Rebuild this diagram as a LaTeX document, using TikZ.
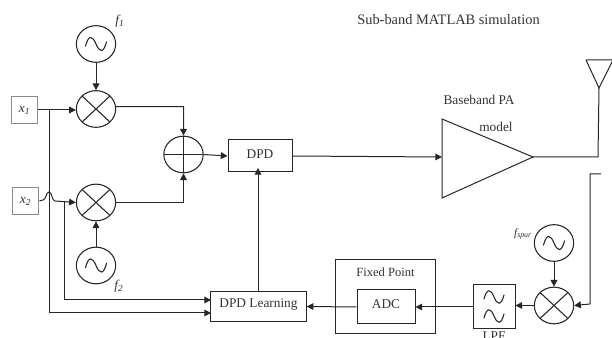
\documentclass[tikz,border=0pt]{standalone}
\usepackage{fontspec}
\setmainfont{Liberation Serif}
\usetikzlibrary{arrows.meta,shapes.geometric}
\begin{document}
\begin{tikzpicture}[x=0.75pt,y=-0.75pt,
  every node/.style={text=black!80,font=\fontsize{10}{12}\selectfont,inner sep=0pt},
  wire/.style={draw=black!85,line width=0.75pt},
  arr/.style={wire,-{Triangle[length=5pt,width=5pt]}},
  blockbox/.style={draw=black!85,line width=0.75pt,rectangle},
  inbox/.style={draw=black!45,line width=0.75pt,rectangle,minimum width=20pt,minimum height=20pt},
  disc/.style={draw=black!85,line width=0.8pt,ellipse,minimum width=29.5pt,minimum height=27.5pt},
  mixer/.style={disc,path picture={
    \draw[black!85,line width=0.8pt] ([shift={(4.3pt,-4pt)}]path picture bounding box.north west) -- ([shift={(-4.3pt,4pt)}]path picture bounding box.south east);
    \draw[black!85,line width=0.8pt] ([shift={(4.3pt,4pt)}]path picture bounding box.south west) -- ([shift={(-4.3pt,-4pt)}]path picture bounding box.north east);}},
  adder/.style={disc,path picture={
    \draw[black!85,line width=0.6pt] (path picture bounding box.north) -- (path picture bounding box.south);
    \draw[black!85,line width=0.6pt] (path picture bounding box.west) -- (path picture bounding box.east);}},
  pics/sinewave/.style={code={
    \draw[black!85,line width=0.8pt,line cap=round] (-7.9pt,-1.6pt) .. controls (-5.6pt,7.2pt) and (-2.6pt,6.4pt) .. (0,0) .. controls (2.6pt,-6.4pt) and (5.6pt,-7.2pt) .. (7.9pt,1.6pt);}}
]
\useasboundingbox (0,0) rectangle (612,338);
\clip (0,0) rectangle (612,338);
\node[disc] (f1) at (96,44) {};
\pic at (f1.center) {sinewave};
\node[mixer] (m1) at (96,109) {};
\node[inbox] (x1) at (24.5,110) {\itshape x\textsubscript{1}};
\node[adder] (add) at (183.5,154.5) {};
\node[blockbox,minimum width=48pt,minimum height=24pt] (dpd) at (260,156) {};
\node at (260,154) {DPD};
\node[inbox] (x2) at (25.5,201) {\itshape x\textsubscript{2}};
\node[mixer] (m2) at (96,202.5) {};
\node[disc] (f2) at (96,265.5) {};
\pic at (f2.center) {sinewave};
\node[blockbox,minimum width=71.5pt,minimum height=23pt,align=center] (learn) at (258.5,306.5) {};
\node at (258.5,305) {DPD Learning};
\node (lf1) at (120,21.5) {\itshape f\textsubscript{1}};
\node (lf2) at (119,286) {\itshape f\textsubscript{2}};
\node[font=\fontsize{10.8}{13}\selectfont] (title) at (448.5,20) {Sub-band MATLAB simulation};
\node (lpa) at (479,100) {Baseband PA};
\node (lmodel) at (496,127) {model};
\coordinate (paA) at (442,119);
\coordinate (paB) at (442,198);
\coordinate (paT) at (533,157);
\coordinate (paIn) at (442,157);
\draw[wire,line join=miter] (paA) -- (paT) -- (paB) -- cycle;
\coordinate (antTip) at (599,88);
\draw[wire] (586,60) -- (antTip) -- (613,60) (586,60) -- (613,60);
\coordinate (corner) at (598,157);
\draw[wire] (paT) -- (corner) -- (antTip);
\node[disc] (fs) at (554,243) {};
\pic at (fs.center) {sinewave};
\node[mixer] (m3) at (554,305.5) {};
\node[blockbox,minimum width=31.5pt,minimum height=33pt] (lpf) at (494,307) {};
\pic[scale=0.95] at (494,297) {sinewave};
\pic[scale=0.95] at (494,316) {sinewave};
\node (llpf) at (494,336) {LPF};
\node[blockbox,minimum width=75.5pt,minimum height=56pt] (fixed) at (385.5,296.5) {};
\node[font=\fontsize{9.4}{11}\selectfont] (lfp) at (385.5,272) {Fixed Point};
\node[blockbox,minimum width=43.5pt,minimum height=25.5pt] (adc) at (386,307) {};
\node at (386,304.5) {ADC};
\node[font=\fontsize{8.4}{10}\selectfont] (lfs) at (523,234) {\itshape f\textsubscript{spur}};
% connectors
\draw[arr] (f1) -- (m1);
\draw[arr] (f2) -- (m2);
\draw[arr] (fs) -- (m3);
\draw[arr] (x1.east) -- (m1.west |- x1.east);
\draw[arr] ([yshift=1.75pt]m1.east) -- (183.5,106.7) -- (add.north);
\draw[arr] (m2.east) -- (183.5,202.5) -- (add.south);
\draw[arr] (add.east) -- (dpd.west);
\draw[arr] (dpd.east) -- (paIn);
\draw[arr] (258,291) -- (258,168);
\coordinate (ret) at (601,174);
\draw[arr] (ret) -- (590,174) -- (590,304) -- (m3.east);
\draw[arr] (m3.west) -- (lpf.east |- m3.west);
\draw[arr] (lpf.west) -- (adc.east);
\draw[arr] (adc.west) -- (learn.east);
% x1 branch
\coordinate (j1) at (49,110);
\draw[arr] (j1) -- (49,313) -- (211,313);
% x2 with hop
\coordinate (j2) at (64,201);
\draw[arr] (x2.east) -- (43,200) .. controls (46,200) and (46,192) .. (49,192) .. controls (52,192) and (52,201) .. (55,201) -- (m2.west);
\draw[arr] (j2) -- (64,300) -- (211,300);
\end{tikzpicture}
\end{document}
